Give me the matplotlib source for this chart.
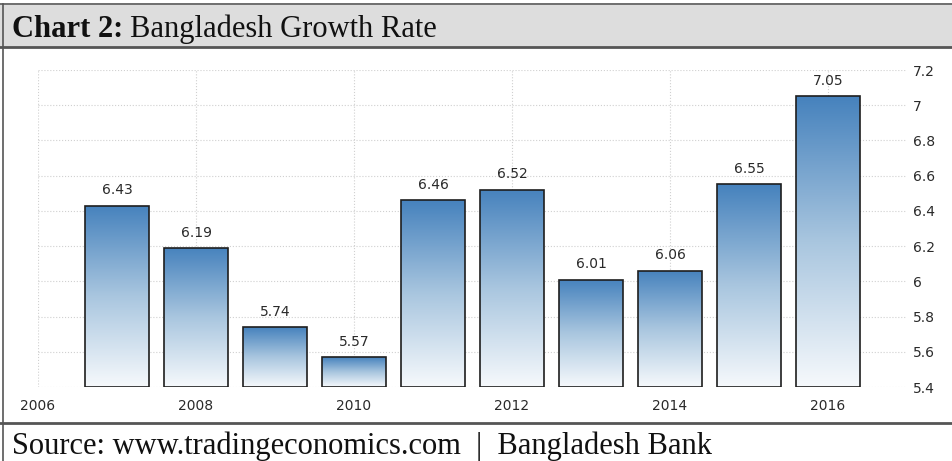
import numpy as np
import matplotlib
matplotlib.use('Agg')
import matplotlib.pyplot as plt
from matplotlib.patches import Rectangle
from matplotlib.lines import Line2D

years = [2007, 2008, 2009, 2010, 2011, 2012, 2013, 2014, 2015, 2016]
growth = [6.43, 6.19, 5.74, 5.57, 6.46, 6.52, 6.01, 6.06, 6.55, 7.05]
xtick_years = [2006, 2008, 2010, 2012, 2014, 2016]
yticks = [5.4, 5.6, 5.8, 6.0, 6.2, 6.4, 6.6, 6.8, 7.0, 7.2]

W, H = 953, 461
fig = plt.figure(figsize=(W / 100, H / 100), dpi=100)
fig.patch.set_facecolor('white')

def px(x, y):
    # pixel coords (top-left origin) -> figure fraction
    return x / W, 1 - y / H

# title band and frame lines
band = Rectangle(px(0, 47), 1, 42 / H, transform=fig.transFigure,
                 facecolor='#dddddd', edgecolor='none', zorder=0)
fig.patches.append(band)
for (x0, y0, x1, y1, lw) in [(0, 4.5, W, 4.5, 1.2), (0, 47.5, W, 47.5, 2.0),
                            (3.5, 4, 3.5, H, 1.2), (0, 423, W, 423, 2.0)]:
    a, b = px(x0, y0)
    c, d = px(x1, y1)
    fig.lines.append(Line2D([a, c], [b, d], transform=fig.transFigure,
                            color='#555555', lw=lw))

serif = 'Liberation Serif'
t1 = fig.text(*px(12, 37), 'Chart 2:', fontfamily=serif, fontweight='bold',
              fontsize=22, color='#111111', va='baseline')
fig.canvas.draw()
r = fig.canvas.get_renderer()
bb = t1.get_window_extent(r)
fig.text(bb.x1 / W + 7 / W, 1 - 37 / H, 'Bangladesh Growth Rate', fontfamily=serif,
         fontsize=22, color='#111111', va='baseline')
fig.text(*px(12, 454), 'Source: www.tradingeconomics.com  |  Bangladesh Bank',
         fontfamily=serif, fontsize=22, color='#111111', va='baseline')

# chart axes
l, t = px(38, 70)
rgt, btm = px(907, 387)
ax = fig.add_axes([l, btm, rgt - l, t - btm])
ax.set_facecolor('white')
for s in ax.spines.values():
    s.set_visible(False)

ax.set_yticks(yticks)
ax.set_yticklabels(['%g' % v for v in yticks])
ax.yaxis.tick_right()
ax.set_xticks(xtick_years)
ax.set_xticklabels([str(v) for v in xtick_years])
ax.tick_params(length=0, labelsize=10, labelcolor='#2a2a2a')
ax.tick_params(axis='y', pad=4)
ax.tick_params(axis='x', pad=9)
ax.grid(True, color='#d0d0d0', linestyle=':', linewidth=0.8)
ax.set_axisbelow(True)

# gradient filled bars
grad = np.linspace(0, 1, 256).reshape(-1, 1)
cmap = matplotlib.colors.LinearSegmentedColormap.from_list(
    'bar', ['#f6f9fc', '#a9c6df', '#4682bd'])
bw = 0.81
for x, v in zip(years, growth):
    rect = Rectangle((x - bw / 2, 5.4), bw, v - 5.4, facecolor='none',
                     edgecolor='#1e1e1e', linewidth=1.2, zorder=3)
    ax.add_patch(rect)
    im = ax.imshow(grad, extent=(x - bw / 2, x + bw / 2, 5.4, v), origin='lower',
                   cmap=cmap, aspect='auto', zorder=2)
    im.set_clip_path(rect)
    ax.annotate('%.2f' % v, (x, v), xytext=(0, 6), textcoords='offset points',
                ha='center', va='bottom', fontsize=10, color='#2a2a2a')
ax.set_xlim(2006, 2017)
ax.set_ylim(5.4, 7.2)

fig.savefig('out.png', dpi=100)
